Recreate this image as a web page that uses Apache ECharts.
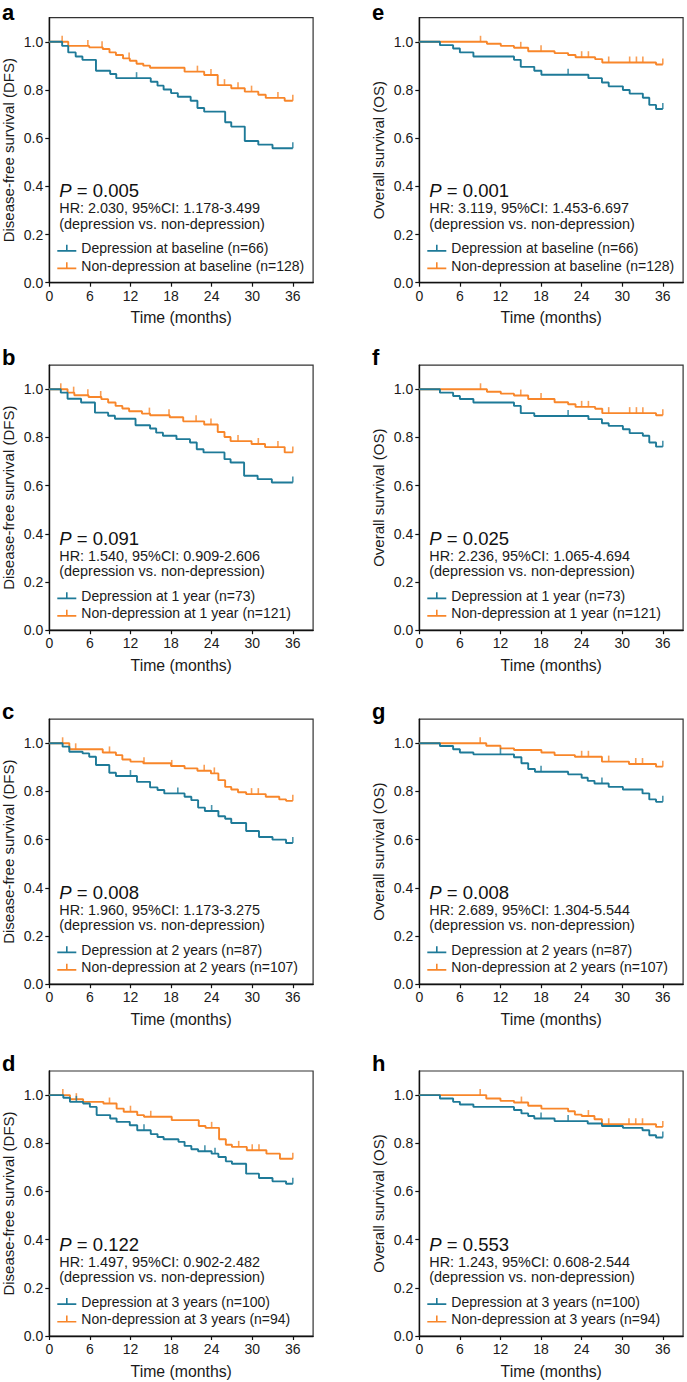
<!DOCTYPE html>
<html><head><meta charset="utf-8">
<script src="https://cdn.jsdelivr.net/npm/echarts@6/dist/echarts.min.js"></script>
<style>html,body{margin:0;padding:0;background:#fff}#c{width:687px;height:1382px}</style>
</head><body><div id="c"></div>
<script>
// ---------- tick labels / text ----------
const xTicks = [0, 6, 12, 18, 24, 30, 36];
const yTicks = [0, 0.2, 0.4, 0.6, 0.8, 1.0];
const panelLetters = ['a', 'b', 'c', 'd', 'e', 'f', 'g', 'h'];
const pValues = ['0.005', '0.091', '0.008', '0.122', '0.001', '0.025', '0.008', '0.553'];
const hrLabels = ['HR: 2.030, 95%CI: 1.178-3.499', 'HR: 1.540, 95%CI: 0.909-2.606', 'HR: 1.960, 95%CI: 1.173-3.275', 'HR: 1.497, 95%CI: 0.902-2.482',
                  'HR: 3.119, 95%CI: 1.453-6.697', 'HR: 2.236, 95%CI: 1.065-4.694', 'HR: 2.689, 95%CI: 1.304-5.544', 'HR: 1.243, 95%CI: 0.608-2.544'];
const depLabels = ['Depression at baseline (n=66)', 'Depression at 1 year (n=73)', 'Depression at 2 years (n=87)', 'Depression at 3 years (n=100)',
                   'Depression at baseline (n=66)', 'Depression at 1 year (n=73)', 'Depression at 2 years (n=87)', 'Depression at 3 years (n=100)'];
const nonLabels = ['Non-depression at baseline (n=128)', 'Non-depression at 1 year (n=121)', 'Non-depression at 2 years (n=107)', 'Non-depression at 3 years (n=94)',
                   'Non-depression at baseline (n=128)', 'Non-depression at 1 year (n=121)', 'Non-depression at 2 years (n=107)', 'Non-depression at 3 years (n=94)'];
const yTitles = ['Disease-free survival (DFS)', 'Overall survival (OS)'];
const xTitle = 'Time (months)';

// ---------- survival data (time in months, survival probability, censor times) ----------
// a: DFS baseline
const aDepT = [0, 1.9, 2.8, 3.9, 4.9, 6.9, 9.0, 9.9, 15.0, 16.0, 16.9, 18.0, 19.0, 20.9, 21.9, 22.9, 26.0, 26.9, 28.9, 30.9, 33.0, 36];
const aDepS = [1, 0.983, 0.956, 0.939, 0.925, 0.880, 0.866, 0.849, 0.834, 0.818, 0.802, 0.787, 0.772, 0.755, 0.725, 0.710, 0.666, 0.648, 0.588, 0.573, 0.558, 0.558];
const aDepC = [12.9, 36];
const aNonT = [0, 2.8, 5.9, 7.9, 8.9, 9.85, 10.9, 11.9, 12.9, 13.9, 14.9, 20.0, 22.9, 24.9, 26.9, 28.9, 30.9, 32.0, 34.8, 36];
const aNonS = [1, 0.983, 0.977, 0.970, 0.956, 0.945, 0.931, 0.921, 0.909, 0.901, 0.892, 0.876, 0.862, 0.820, 0.807, 0.793, 0.780, 0.767, 0.755, 0.755];
const aNonC = [1.9, 5.7, 7.8, 11.8, 21.9, 23.9, 25.9, 27.9, 29.9, 33.8, 36];
// b: DFS 1 year
const bDepT = [0, 1.7, 2.7, 4.7, 6.75, 8.7, 9.7, 12.75, 14.9, 15.8, 16.8, 18.8, 20.8, 21.8, 22.8, 25.9, 26.8, 28.8, 30.8, 32.9, 36];
const bDepS = [1, 0.986, 0.961, 0.945, 0.903, 0.890, 0.878, 0.851, 0.837, 0.820, 0.807, 0.793, 0.779, 0.751, 0.738, 0.710, 0.696, 0.641, 0.627, 0.613, 0.613];
const bDepC = [36];
const bNonT = [0, 2.7, 3.7, 5.8, 7.7, 8.7, 9.8, 10.8, 11.8, 13.7, 14.9, 17.8, 19.8, 22.9, 24.9, 25.9, 26.8, 29.9, 31.9, 34.8, 36];
const bNonS = [1, 0.986, 0.975, 0.968, 0.959, 0.945, 0.931, 0.920, 0.909, 0.899, 0.892, 0.884, 0.867, 0.854, 0.823, 0.802, 0.785, 0.773, 0.760, 0.738, 0.738];
const bNonC = [1.7, 3.6, 5.7, 7.6, 14.8, 17.7, 21.7, 23.9, 27.9, 30.9, 33.8, 36];
// c: DFS 2 years
const cDepT = [0, 1.97, 2.96, 4.93, 5.9, 6.9, 8.87, 9.85, 12.96, 14.9, 16.0, 17.0, 20.0, 21.0, 22.0, 23.0, 25.0, 26.0, 26.9, 29.1, 31.0, 33.0, 35.0, 36];
const cDepS = [1, 0.986, 0.965, 0.958, 0.944, 0.910, 0.878, 0.864, 0.840, 0.817, 0.806, 0.792, 0.778, 0.764, 0.733, 0.719, 0.697, 0.687, 0.669, 0.636, 0.611, 0.600, 0.586, 0.586];
const cDepC = [12.0, 19.0, 24.0, 36];
const cNonT = [0, 2.96, 7.9, 9.85, 10.8, 12.0, 13.9, 18.0, 20.0, 21.9, 23.9, 25.0, 26.0, 26.9, 27.9, 29.1, 32.0, 34.0, 35.0, 36];
const cNonS = [1, 0.975, 0.962, 0.951, 0.933, 0.924, 0.917, 0.906, 0.896, 0.886, 0.875, 0.847, 0.819, 0.808, 0.797, 0.789, 0.778, 0.767, 0.761, 0.761];
const cNonC = [1.97, 3.9, 8.9, 14.0, 18.1, 22.9, 24.4, 29.9, 30.9, 36];
// d: DFS 3 years
const dDepT = [0, 2.07, 3.05, 5.0, 6.0, 7.0, 9.0, 9.95, 11.9, 13.0, 15.0, 16.0, 16.9, 19.1, 20.0, 21.0, 22.0, 24.0, 25.0, 26.1, 27.0, 29.1, 31.0, 33.0, 35.0, 36];
const dDepS = [1, 0.989, 0.972, 0.965, 0.951, 0.917, 0.903, 0.889, 0.875, 0.854, 0.838, 0.826, 0.817, 0.806, 0.789, 0.775, 0.767, 0.757, 0.743, 0.725, 0.715, 0.674, 0.656, 0.642, 0.632, 0.632];
const dDepC = [4.0, 14.0, 23.0, 24.5, 36];
const dNonT = [0, 3.05, 5.0, 8.0, 9.95, 11.0, 13.0, 14.0, 18.1, 22.1, 23.1, 25.1, 26.1, 27.0, 29.2, 32.1, 34.1, 36];
const dNonS = [1, 0.983, 0.972, 0.965, 0.944, 0.931, 0.917, 0.910, 0.896, 0.872, 0.864, 0.817, 0.794, 0.785, 0.771, 0.757, 0.736, 0.736];
const dNonC = [2.0, 4.0, 8.9, 12.0, 15.0, 24.0, 28.0, 30.0, 31.0, 36];
// e: OS baseline
const eDepT = [0, 3.05, 5.0, 6.0, 8.0, 14.0, 15.0, 17.0, 18.05, 25.0, 27.0, 28.0, 30.1, 31.1, 33.05, 34.0, 35.0, 36];
const eDepS = [1, 0.986, 0.972, 0.956, 0.939, 0.925, 0.896, 0.880, 0.863, 0.849, 0.831, 0.815, 0.800, 0.785, 0.768, 0.738, 0.721, 0.721];
const eDepC = [22.0, 36];
const eNonT = [0, 10.0, 12.05, 14.0, 16.1, 20.0, 22.0, 23.1, 26.0, 27.05, 35.0, 36];
const eNonS = [1, 0.992, 0.983, 0.975, 0.961, 0.953, 0.945, 0.936, 0.928, 0.914, 0.906, 0.906];
const eNonC = [9.05, 15.0, 18.0, 24.0, 25.0, 28.0, 31.1, 32.1, 33.05, 36];
// f: OS 1 year
const fDepT = [0, 3.05, 5.0, 6.0, 8.0, 14.0, 15.0, 17.0, 25.0, 27.0, 28.0, 30.1, 31.1, 33.05, 34.0, 35.0, 36];
const fDepS = [1, 0.986, 0.972, 0.960, 0.945, 0.931, 0.901, 0.889, 0.876, 0.859, 0.848, 0.834, 0.818, 0.807, 0.779, 0.762, 0.762];
const fDepC = [22.0, 36];
const fNonT = [0, 10.0, 12.05, 14.0, 16.1, 20.0, 22.0, 23.1, 26.0, 27.05, 35.0, 36];
const fNonS = [1, 0.990, 0.982, 0.974, 0.960, 0.946, 0.938, 0.927, 0.919, 0.901, 0.892, 0.892];
const fNonC = [9.05, 15.0, 18.0, 24.0, 25.0, 28.0, 31.1, 32.1, 33.05, 36];
// g: OS 2 years
const gDepT = [0, 3.05, 5.0, 6.0, 8.0, 14.0, 15.1, 16.1, 17.1, 22.0, 24.0, 24.9, 25.9, 28.0, 30.1, 33.0, 34.0, 35.0, 36];
const gDepS = [1, 0.989, 0.975, 0.962, 0.954, 0.942, 0.917, 0.893, 0.882, 0.871, 0.857, 0.844, 0.833, 0.819, 0.808, 0.792, 0.767, 0.757, 0.757];
const gDepC = [12.0, 18.0, 27.0, 36];
const gNonT = [0, 9.9, 12.0, 14.0, 18.05, 20.0, 23.0, 27.0, 31.0, 35.0, 36];
const gNonS = [1, 0.990, 0.979, 0.972, 0.962, 0.951, 0.944, 0.924, 0.914, 0.903, 0.903];
const gNonC = [9.0, 24.0, 25.0, 28.0, 32.0, 33.0, 36];
// h: OS 3 years
const hDepT = [0, 3.05, 5.0, 6.0, 8.0, 14.0, 15.1, 16.1, 17.0, 20.0, 24.9, 27.0, 30.1, 33.0, 34.0, 35.0, 36];
const hDepS = [1, 0.986, 0.972, 0.961, 0.951, 0.938, 0.924, 0.913, 0.903, 0.892, 0.882, 0.872, 0.864, 0.854, 0.833, 0.824, 0.824];
const hDepC = [18.0, 22.0, 36];
const hNonT = [0, 9.9, 12.0, 14.0, 16.1, 18.05, 22.0, 23.0, 24.0, 25.9, 27.0, 35.0, 36];
const hNonS = [1, 0.986, 0.976, 0.969, 0.956, 0.944, 0.933, 0.919, 0.913, 0.900, 0.879, 0.868, 0.868];
const hNonC = [9.0, 15.1, 25.0, 28.0, 31.0, 32.0, 33.0, 36];

// ---------- build ----------
const panels = [
  [aDepT, aDepS, aDepC, aNonT, aNonS, aNonC],
  [bDepT, bDepS, bDepC, bNonT, bNonS, bNonC],
  [cDepT, cDepS, cDepC, cNonT, cNonS, cNonC],
  [dDepT, dDepS, dDepC, dNonT, dNonS, dNonC],
  [eDepT, eDepS, eDepC, eNonT, eNonS, eNonC],
  [fDepT, fDepS, fDepC, fNonT, fNonS, fNonC],
  [gDepT, gDepS, gDepC, gNonT, gNonS, gNonC],
  [hDepT, hDepS, hDepC, hNonT, hNonS, hNonC]
];
const BLUE = '#1e7a98', ORANGE = '#f8862a';
const FONT = '"Liberation Sans", Arial, Helvetica, sans-serif';
const colLeft = [49.3, 419.3];
const rowTop = [17.7, 365.2, 719.2, 1071];
const GW = 263.8, GH = 265;

function steps(T, S) { return T.map((t, i) => [t, S[i]]); }
function censors(T, S, C) {
  return C.map(c => { let v = S[0]; for (let i = 0; i < T.length; i++) if (T[i] <= c) v = S[i]; return [c, v]; });
}

const legendIcon = 'path://M0,5.3 L19,5.3 L19,7 L0,7 Z M8.7,0 L10.3,0 L10.3,5.3 L8.7,5.3 Z';

const option = { animation: false, backgroundColor: '#fff', grid: [], xAxis: [], yAxis: [], series: [], title: [], legend: [] };

panels.forEach((p, k) => {
  const col = k < 4 ? 0 : 1, row = k % 4;
  const L = colLeft[col], T0 = rowTop[row];
  option.grid.push({ left: L, top: T0, width: GW, height: GH, show: true, borderColor: '#333', borderWidth: 1.2, backgroundColor: 'transparent', containLabel: false });
  option.xAxis.push({
    gridIndex: k, type: 'value', min: 0, max: 39,
    axisLine: { show: true, onZero: false, lineStyle: { color: '#111', width: 1.4 } },
    axisTick: { show: true, length: 4, lineStyle: { color: '#111', width: 1.2 }, customValues: xTicks },
    axisLabel: { customValues: xTicks, fontSize: 14, color: '#1a1a1a', fontFamily: FONT, margin: 6 },
    splitLine: { show: false },
    name: xTitle, nameLocation: 'middle', nameGap: 27,
    nameTextStyle: { fontSize: 15.8, color: '#1a1a1a', fontFamily: FONT }
  });
  option.yAxis.push({
    gridIndex: k, type: 'value', min: 0, max: 1.1,
    axisLine: { show: true, onZero: false, lineStyle: { color: '#111', width: 1.4 } },
    axisTick: { show: true, length: 4, lineStyle: { color: '#111', width: 1.2 }, customValues: yTicks },
    axisLabel: { customValues: yTicks, fontSize: 14, color: '#1a1a1a', fontFamily: FONT, margin: 6, formatter: v => v.toFixed(1) },
    splitLine: { show: false },
    name: yTitles[col], nameLocation: 'middle', nameGap: 33,
    nameTextStyle: { fontSize: 15, color: '#1a1a1a', fontFamily: FONT }
  });
  const [dT, dS, dC, nT, nS, nC] = p;
  option.series.push({ name: nonLabels[k], type: 'line', xAxisIndex: k, yAxisIndex: k, step: 'end', showSymbol: false, data: steps(nT, nS), color: ORANGE, lineStyle: { width: 1.9, color: ORANGE }, z: 3 });
  option.series.push({ name: depLabels[k], type: 'line', xAxisIndex: k, yAxisIndex: k, step: 'end', showSymbol: false, data: steps(dT, dS), color: BLUE, lineStyle: { width: 1.9, color: BLUE }, z: 4 });
  option.series.push({ name: nonLabels[k], type: 'scatter', xAxisIndex: k, yAxisIndex: k, data: censors(nT, nS, nC), symbol: 'rect', symbolSize: [1.6, 6], symbolOffset: [0, -3], itemStyle: { color: ORANGE }, z: 3 });
  option.series.push({ name: depLabels[k], type: 'scatter', xAxisIndex: k, yAxisIndex: k, data: censors(dT, dS, dC), symbol: 'rect', symbolSize: [1.6, 6], symbolOffset: [0, -3], itemStyle: { color: BLUE }, z: 4 });

  option.legend.push({
    orient: 'vertical', left: L + 8, top: T0 + 223.5, padding: 0, itemGap: 3.6,
    itemWidth: 19, itemHeight: 7, icon: legendIcon, selectedMode: false,
    data: [{ name: depLabels[k], icon: legendIcon, itemStyle: { color: BLUE } }, { name: nonLabels[k], icon: legendIcon, itemStyle: { color: ORANGE } }],
    textStyle: { fontSize: 14, color: '#1a1a1a', fontFamily: FONT, padding: [0, 0, 0, 0] }
  });
  option.title.push({
    text: '{i|P} = ' + pValues[k], left: L + 10, top: T0 + 163.5, padding: 0,
    textStyle: { fontSize: 18.5, fontWeight: 'normal', color: '#111', fontFamily: FONT, rich: { i: { fontStyle: 'italic', fontSize: 18.5, color: '#111', fontFamily: FONT } } }
  });
  option.title.push({
    text: hrLabels[k] + '\n(depression vs. non-depression)', left: L + 10, top: T0 + 183, padding: 0,
    textStyle: { fontSize: 14.4, fontWeight: 'normal', color: '#1a1a1a', fontFamily: FONT, lineHeight: 15.5 }
  });
  option.title.push({
    text: panelLetters[k], left: col === 0 ? 2 : 372, top: Math.max(1, T0 - 18.5), padding: 0,
    textStyle: { fontSize: 22, fontWeight: 'bold', color: '#000', fontFamily: FONT }
  });
});

const chart = echarts.init(document.getElementById('c'), null, { renderer: 'svg', width: 687, height: 1382 });
chart.setOption(option);
</script></body></html>
